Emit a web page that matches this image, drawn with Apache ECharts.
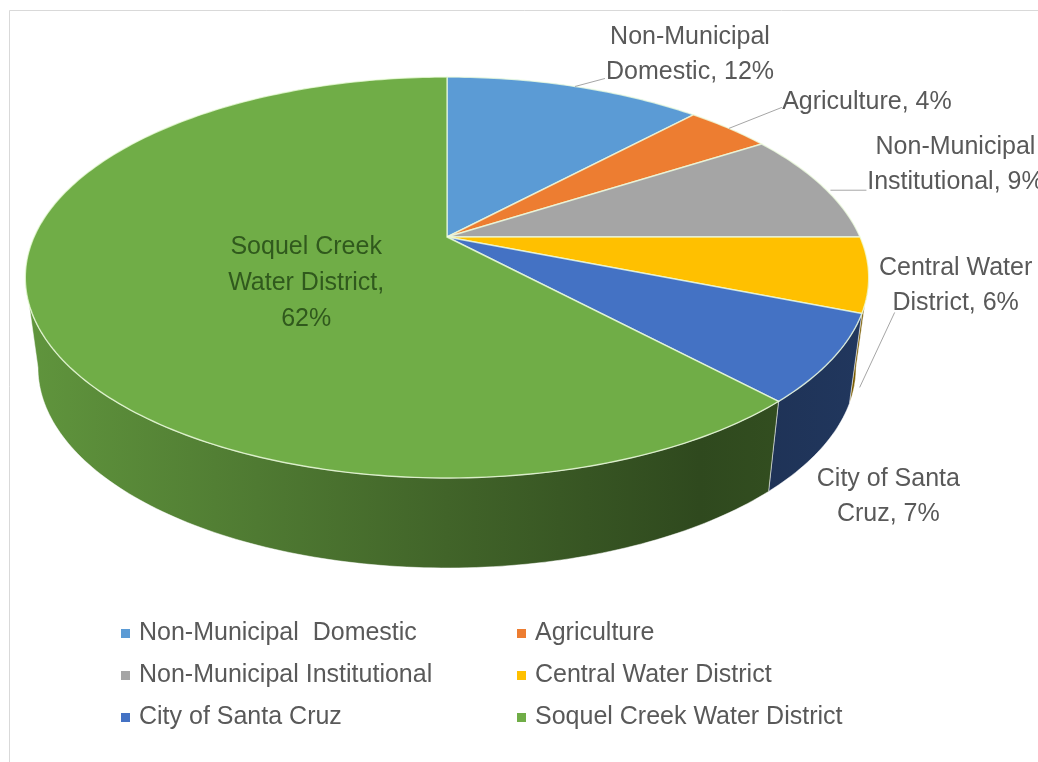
<!DOCTYPE html>
<html>
<head>
<meta charset="utf-8">
<title>Water use by sector</title>
<script src="https://cdn.jsdelivr.net/npm/echarts@6/dist/echarts.min.js"></script>
<style>
  html, body { margin: 0; padding: 0; background: #fff; }
  #chart { width: 1038px; height: 762px; }
</style>
</head>
<body>
<div id="chart"></div>
<script>
// data
var categories = ['Non-Municipal  Domestic', 'Agriculture', 'Non-Municipal Institutional',
                  'Central Water District', 'City of Santa Cruz', 'Soquel Creek Water District'];
var shares = [12, 4, 9, 6, 7, 62];
var labelNames = ['Non-Municipal\nDomestic', 'Agriculture', 'Non-Municipal\nInstitutional',
                  'Central Water\nDistrict', 'City of Santa\nCruz', 'Soquel Creek\nWater District'];
var labelSep = [', ', ', ', ', ', ', ', ', ', ',\n'];
var colors = ['#5B9BD5', '#ED7D31', '#A5A5A5', '#FFC000', '#4472C4', '#70AD47'];

// label placement, relative to the rim point at the middle of each slice
var labelOffset = [[115, -32], [138, -26], [133, -22], [87, 11], [56, 138], [274, -30]];
var leaderLine = [[[0, 0], [30, -8]], [[0, 0], [53, -21]], [[8, 4], [44, 4]],
                  [[-9, 113], [26, 38]], null, null];

var FONT = '"Liberation Sans", Arial, sans-serif';
var TXT = '#595959';

// 3d pie geometry (perspective squash of a circle)
var CX = 447, CY = 237, RA = 413, RB = 192.3, K = 0.202, DEPTH = 90, SHRINK = 0.97;
var VIS0 = Math.acos(-K) * 180 / Math.PI, VIS1 = 360 - VIS0;

var total = shares.reduce(function (a, b) { return a + b; }, 0);
var startAngle = [];
var acc = 0;
shares.forEach(function (v) { startAngle.push(acc / total * 360); acc += v; });

function rim(deg, bottom) {
    var t = deg * Math.PI / 180;
    var u = Math.sin(t), w = Math.cos(t), s = 1 / (1 + K * w);
    var x = RA * u * s, y = -RB * w * s;
    if (bottom) { x *= SHRINK; y += DEPTH; }
    return [CX + x, CY + y];
}

function arc(a0, a1, bottom) {
    var pts = [];
    var n = Math.max(2, Math.ceil(a1 - a0));
    for (var j = 0; j <= n; j++) {
        pts.push(rim(a0 + (a1 - a0) * j / n, bottom));
    }
    return pts;
}

function shade(hex, f) {
    var n = parseInt(hex.slice(1), 16);
    var r = Math.round(((n >> 16) & 255) * f), g = Math.round(((n >> 8) & 255) * f), b = Math.round((n & 255) * f);
    return 'rgb(' + r + ',' + g + ',' + b + ')';
}

function renderSlice(i) {
    return function (params, api) {
        var a0 = startAngle[i];
        var a1 = a0 + api.value(0) / total * 360;
        var children = [];

        // side wall (only the front part is visible)
        var w0 = Math.max(a0, VIS0), w1 = Math.min(a1, VIS1);
        if (w1 > w0) {
            var pts = arc(w0, w1, false).concat(arc(w0, w1, true).reverse());
            children.push({
                type: 'polygon',
                shape: { points: pts },
                style: {
                    fill: new echarts.graphic.LinearGradient(CX - RA * 1.02, 0, CX + RA * 1.02, 0, [
                        { offset: 0, color: shade(colors[i], 0.86) },
                        { offset: 0.5, color: shade(colors[i], 0.58) },
                        { offset: 0.8, color: shade(colors[i], 0.42) },
                        { offset: 1, color: shade(colors[i], 0.48) }
                    ], true),
                    stroke: 'rgba(255,255,255,0.5)',
                    lineWidth: 1
                }
            });
        }

        // top face
        children.push({
            type: 'polygon',
            shape: { points: [[CX, CY]].concat(arc(a0, a1, false)) },
            style: { fill: colors[i], stroke: 'rgba(240,255,225,0.75)', lineWidth: 1.4 }
        });

        // data label
        var anchor = rim((a0 + a1) / 2, false);
        var off = labelOffset[i];
        var inside = i === shares.length - 1;
        children.push({
            type: 'text',
            style: {
                text: labelNames[i] + labelSep[i] + api.value(0) + '%',
                x: anchor[0] + off[0],
                y: anchor[1] + off[1],
                align: 'center',
                verticalAlign: 'middle',
                font: '25px ' + FONT,
                lineHeight: inside ? 36 : 35,
                fill: inside ? '#30591d' : TXT
            }
        });
        if (leaderLine[i]) {
            var ld = leaderLine[i];
            children.push({
                type: 'polyline',
                shape: { points: [[anchor[0] + ld[0][0], anchor[1] + ld[0][1]], [anchor[0] + ld[1][0], anchor[1] + ld[1][1]]] },
                style: { stroke: '#a6a6a6', lineWidth: 1, fill: null }
            });
        }
        return { type: 'group', children: children };
    };
}

var series = categories.map(function (name, i) {
    return {
        type: 'custom',
        name: name,
        coordinateSystem: 'none',
        itemStyle: { color: colors[i] },
        renderItem: renderSlice(i),
        data: [shares[i]],
        silent: true
    };
});

function legendCol(left, idx) {
    return {
        orient: 'vertical',
        left: left,
        top: 616,
        itemGap: 17,
        icon: 'rect',
        itemWidth: 9,
        itemHeight: 9,
        selectedMode: false,
        data: idx.map(function (k) { return categories[k]; }),
        textStyle: { fontFamily: FONT, fontSize: 25, lineHeight: 25, color: TXT, padding: [0, 0, 0, 4] }
    };
}

var chart = echarts.init(document.getElementById('chart'));
chart.setOption({
    animation: false,
    backgroundColor: '#fff',
    legend: [legendCol(116, [0, 2, 4]), legendCol(512, [1, 3, 5])],
    graphic: [{
        type: 'rect',
        shape: { x: 9.5, y: 10.5, width: 1200, height: 900 },
        style: { fill: null, stroke: '#d9d9d9', lineWidth: 1 },
        silent: true
    }],
    series: series
});
</script>
</body>
</html>
